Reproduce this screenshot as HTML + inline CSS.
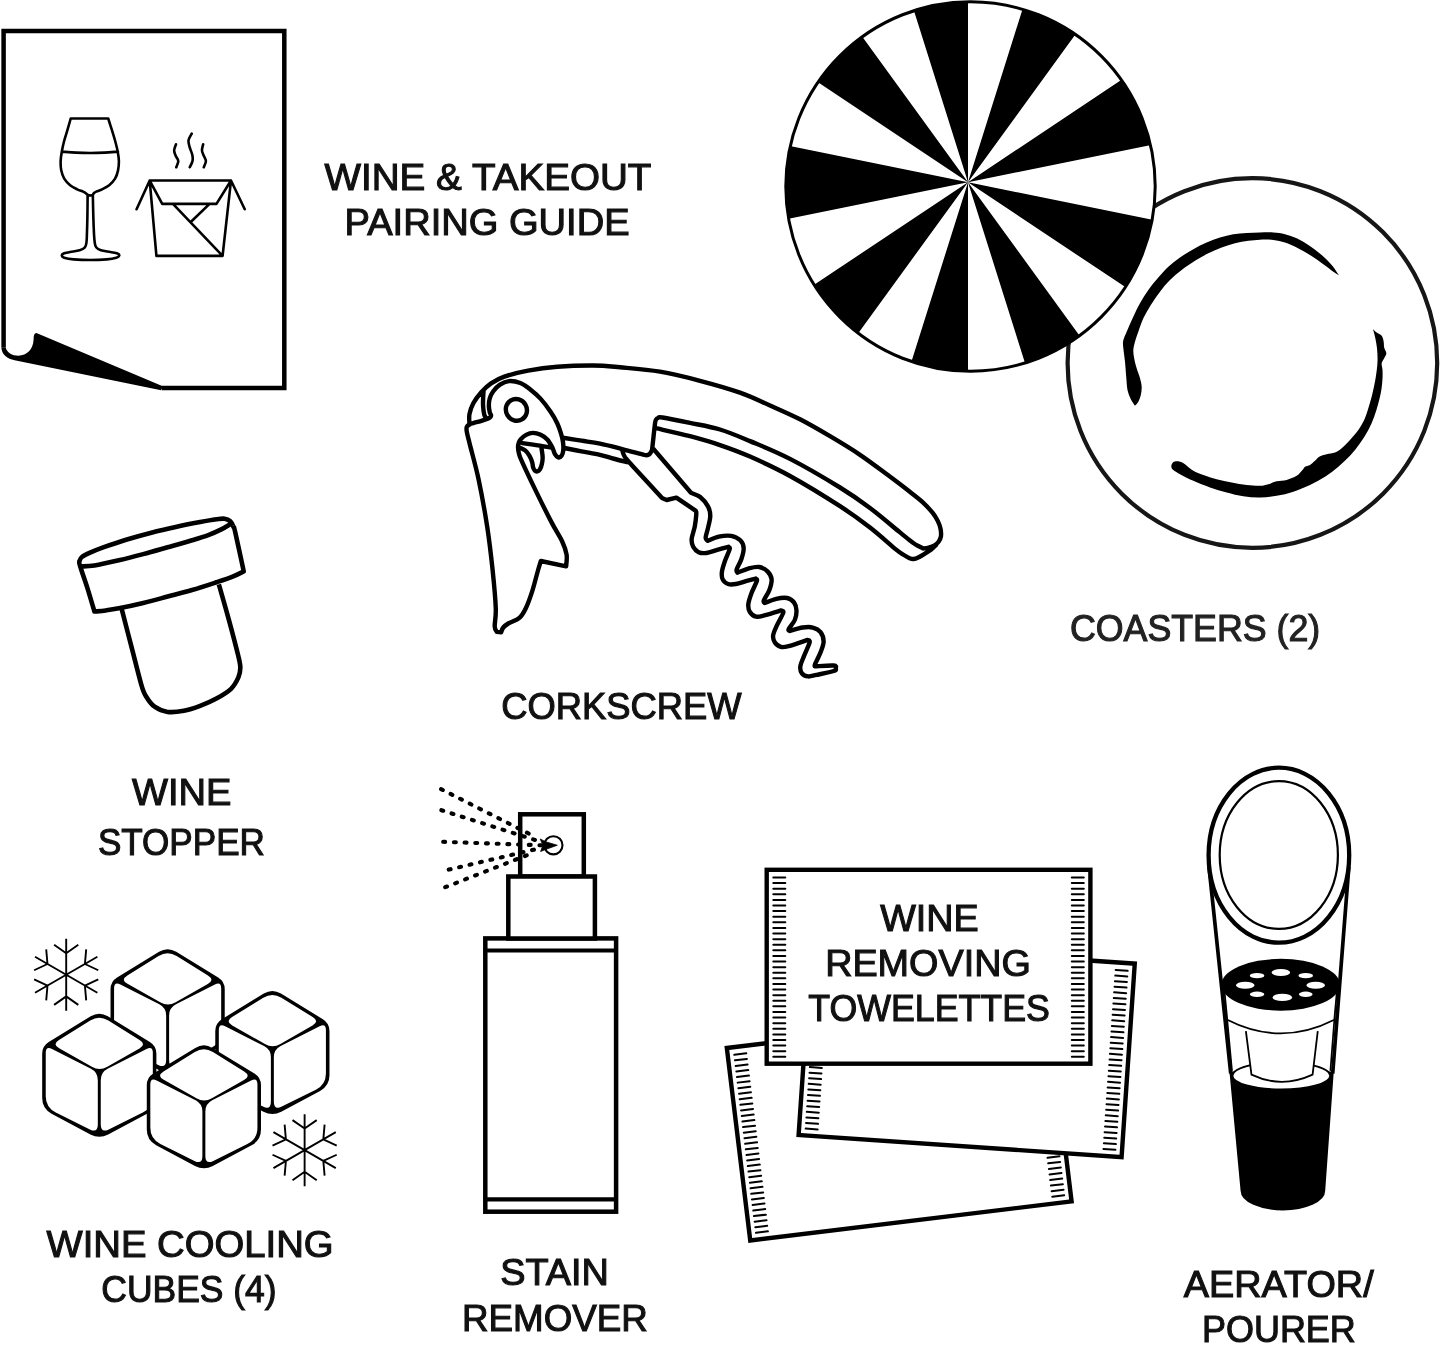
<!DOCTYPE html>
<html><head><meta charset="utf-8"><title>Wine kit</title>
<style>
html,body{margin:0;padding:0;background:#fff;}
body{width:1440px;height:1352px;overflow:hidden;}
svg{display:block;will-change:transform;}
text{font-family:"Liberation Sans",sans-serif;font-size:37.3px;}
</style></head><body>
<svg width="1440" height="1352" viewBox="0 0 1440 1352">
<rect width="1440" height="1352" fill="#fff"/>
<path d="M3.6 347.22 L3.6 31 L284.3 31 L284.3 388 L161.81 388" fill="none" stroke="#000" stroke-width="4.5" stroke-linejoin="miter"/>
<path d="M36.39 333.06 L162.78 386.25 L161.11 390.14 L14.58 360.14C7.64 359.03 1.39 354.44 1.39 347.22L5.69 347.22C6.67 352.5 12.22 355.69 18.33 355.69C27.08 355.28 33.06 350 33.61 339.58C33.61 335.42 34.17 333.33 36.39 333.06Z" fill="#000"/>
<path d="M70.71 118.52C70.22 120.26 68.84 125.23 67.75 128.93C66.67 132.64 65.19 137.02 64.2 140.77C63.21 144.52 62.43 148.07 61.83 151.42C61.24 154.77 60.75 157.73 60.65 160.89C60.55 164.04 60.65 167.4 61.24 170.36C61.83 173.31 62.72 176.17 64.2 178.64C65.68 181.1 67.95 183.37 70.12 185.15C72.29 186.92 75.05 188.21 77.22 189.29C79.39 190.37 81.66 190.97 83.14 191.66C84.62 192.35 85.35 192.88 86.09 193.43C86.84 193.98 87.38 194.71 87.63 194.97C88.07 195.07 89.37 195.56 90.24 195.56C91.1 195.56 92.41 195.07 92.84 194.97C93.04 194.65 93.37 193.67 94.02 193.08C94.67 192.49 95.4 192.05 96.75 191.42C98.09 190.79 100 190.34 102.07 189.29C104.14 188.24 107 186.92 109.17 185.15C111.34 183.37 113.61 181.1 115.09 178.64C116.57 176.17 117.42 173.31 118.05 170.36C118.68 167.4 118.93 164.04 118.88 160.89C118.82 157.73 118.32 154.77 117.69 151.42C117.06 148.07 116.11 144.52 115.09 140.77C114.06 137.02 112.68 132.64 111.54 128.93C110.39 125.23 108.78 120.26 108.22 118.52L70.71 118.52Z M61.83 151.66C64.2 151.81 71.3 152.39 76.04 152.6C80.77 152.82 85.5 152.96 90.24 152.96C94.97 152.96 99.82 152.82 104.44 152.6C109.05 152.39 115.68 151.81 117.93 151.66 M87.63 194.97C87.59 198.56 87.51 209.96 87.4 216.51C87.28 223.06 87.08 229.92 86.92 234.26C86.77 238.6 86.79 240.37 86.45 242.54C86.11 244.71 86.06 246 84.91 247.28C83.77 248.56 82.05 249.45 79.59 250.24C77.12 251.03 72.78 251.48 70.12 252.01C67.46 252.54 64.99 252.84 63.61 253.43C62.23 254.02 61.74 254.85 61.83 255.56C61.93 256.27 62.23 257.06 64.2 257.69C66.17 258.32 69.33 258.95 73.67 259.35C78.01 259.74 84.71 260.06 90.24 260.06C95.76 260.06 102.47 259.74 106.8 259.35C111.14 258.95 114.2 258.32 116.27 257.69C118.34 257.06 119.03 256.27 119.23 255.56C119.43 254.85 118.93 254.02 117.46 253.43C115.98 252.84 113.12 252.54 110.36 252.01C107.59 251.48 103.25 251.03 100.89 250.24C98.52 249.45 97.18 248.56 96.15 247.28C95.13 246 95.09 244.71 94.73 242.54C94.38 240.37 94.26 238.6 94.02 234.26C93.79 229.92 93.51 223.06 93.31 216.51C93.12 209.96 92.92 198.56 92.84 194.97 M136.56 209.24 L149.7 180.52 L230.99 180.52 L244.74 209.24 M149.7 180.52 L156.42 255.84 L222.58 255.84 L230.99 180.52 M149.7 180.52 L162.23 203.9 L216.47 203.9 L230.99 180.52 M172.93 203.9 L222.58 255.84 M209.6 203.9 L191.26 221.47 M175.98 144.31C175.68 145.33 174.2 148.51 174.15 150.42C174.1 152.33 174.99 153.99 175.68 155.77C176.36 157.55 178.17 159.21 178.27 161.12C178.38 163.03 176.62 166.21 176.29 167.23 M191.72 133.61C191.18 134.76 188.84 138.2 188.51 140.49C188.18 142.78 189.1 144.95 189.73 147.36C190.37 149.78 191.87 152.71 192.33 155C192.79 157.3 192.92 159.08 192.48 161.12C192.05 163.15 190.19 166.21 189.73 167.23 M203.18 144.31C202.97 145.33 201.85 148.51 201.96 150.42C202.06 152.33 203.13 153.99 203.79 155.77C204.45 157.55 205.93 159.21 205.93 161.12C205.93 163.03 204.15 166.21 203.79 167.23" fill="none" stroke="#000" stroke-width="2.6" stroke-linecap="round" stroke-linejoin="round"/>
<circle cx="1252.4" cy="363" r="184.8" fill="#fff" stroke="#161616" stroke-width="4.2"/>
<path d="M1339 275.33C1337.78 273.61 1334.56 268.39 1331.67 265C1328.78 261.61 1325.56 258.33 1321.67 255C1317.78 251.67 1312.5 247.78 1308.33 245C1304.17 242.22 1300.56 240.14 1296.67 238.33C1292.78 236.53 1288.89 235.14 1285 234.17C1281.11 233.19 1277.5 232.78 1273.33 232.5C1269.17 232.22 1264.44 232.42 1260 232.5C1255.56 232.58 1251.11 232.72 1246.67 233C1242.22 233.28 1237.78 233.42 1233.33 234.17C1228.89 234.92 1224.44 236.11 1220 237.5C1215.56 238.89 1211.11 240.56 1206.67 242.5C1202.22 244.44 1197.78 246.67 1193.33 249.17C1188.89 251.67 1184.17 254.58 1180 257.5C1175.83 260.42 1171.94 263.33 1168.33 266.67C1164.72 270 1161.67 273.61 1158.33 277.5C1155 281.39 1151.39 285.69 1148.33 290C1145.28 294.31 1142.5 298.89 1140 303.33C1137.5 307.78 1135.56 311.94 1133.33 316.67C1131.11 321.39 1128.33 327.72 1126.67 331.67C1125 335.61 1123.92 337.83 1123.33 340.33C1122.75 342.83 1122.89 343.11 1123.17 346.67C1123.44 350.22 1124.47 356.39 1125 361.67C1125.53 366.94 1125.92 373.61 1126.33 378.33C1126.75 383.06 1126.75 386.53 1127.5 390C1128.25 393.47 1129.58 396.56 1130.83 399.17C1132.08 401.78 1134.31 404.58 1135 405.67C1135.56 405 1137.36 403.44 1138.33 401.67C1139.31 399.89 1140.28 397.5 1140.83 395C1141.39 392.5 1141.81 389.44 1141.67 386.67C1141.53 383.89 1140.83 381.39 1140 378.33C1139.17 375.28 1137.64 371.67 1136.67 368.33C1135.69 365 1134.72 361.39 1134.17 358.33C1133.61 355.28 1133.19 352.78 1133.33 350C1133.47 347.22 1134.17 344.72 1135 341.67C1135.83 338.61 1136.94 335.56 1138.33 331.67C1139.72 327.78 1141.25 322.78 1143.33 318.33C1145.42 313.89 1148.06 309.44 1150.83 305C1153.61 300.56 1156.81 295.83 1160 291.67C1163.19 287.5 1166.39 283.61 1170 280C1173.61 276.39 1177.5 273.19 1181.67 270C1185.83 266.81 1190.56 263.61 1195 260.83C1199.44 258.06 1203.89 255.56 1208.33 253.33C1212.78 251.11 1217.22 249.17 1221.67 247.5C1226.11 245.83 1230.56 244.44 1235 243.33C1239.44 242.22 1244.17 241.44 1248.33 240.83C1252.5 240.22 1255.83 239.81 1260 239.67C1264.17 239.53 1269.17 239.53 1273.33 240C1277.5 240.47 1281.11 241.25 1285 242.5C1288.89 243.75 1292.5 245.42 1296.67 247.5C1300.83 249.58 1305.56 252.22 1310 255C1314.44 257.78 1319.44 261.39 1323.33 264.17C1327.22 266.94 1330.72 269.81 1333.33 271.67C1335.94 273.53 1338.06 274.72 1339 275.33Z" fill="#000"/>
<path d="M1373 329.17C1373.61 329.72 1375.22 331.39 1376.67 332.5C1378.11 333.61 1380.5 334.31 1381.67 335.83C1382.83 337.36 1383.25 339.72 1383.67 341.67C1384.08 343.61 1383.72 345.56 1384.17 347.5C1384.61 349.44 1386.33 351.53 1386.33 353.33C1386.33 355.14 1384.94 356.67 1384.17 358.33C1383.39 360 1381.94 361.39 1381.67 363.33C1381.39 365.28 1382.36 367.5 1382.5 370C1382.64 372.5 1382.69 375 1382.5 378.33C1382.31 381.67 1382.03 385.83 1381.33 390C1380.64 394.17 1379.53 398.89 1378.33 403.33C1377.14 407.78 1375.83 412.22 1374.17 416.67C1372.5 421.11 1370.69 425.56 1368.33 430C1365.97 434.44 1363.06 439.03 1360 443.33C1356.94 447.64 1353.61 451.94 1350 455.83C1346.39 459.72 1342.5 463.19 1338.33 466.67C1334.17 470.14 1329.72 473.61 1325 476.67C1320.28 479.72 1315.28 482.5 1310 485C1304.72 487.5 1298.89 489.86 1293.33 491.67C1287.78 493.47 1282.22 494.86 1276.67 495.83C1271.11 496.81 1265.56 497.42 1260 497.5C1254.44 497.58 1248.89 497.17 1243.33 496.33C1237.78 495.5 1232.22 493.97 1226.67 492.5C1221.11 491.03 1215.56 489.44 1210 487.5C1204.44 485.56 1198.33 483.06 1193.33 480.83C1188.33 478.61 1183.33 475.97 1180 474.17C1176.67 472.36 1174.78 471.25 1173.33 470C1171.89 468.75 1171.47 467.83 1171.33 466.67C1171.19 465.5 1171.75 463.89 1172.5 463C1173.25 462.11 1174.58 461.56 1175.83 461.33C1177.08 461.11 1178.47 461.19 1180 461.67C1181.53 462.14 1182.78 462.64 1185 464.17C1187.22 465.69 1190.28 469.03 1193.33 470.83C1196.39 472.64 1199.44 473.61 1203.33 475C1207.22 476.39 1211.94 477.92 1216.67 479.17C1221.39 480.42 1226.67 481.53 1231.67 482.5C1236.67 483.47 1241.94 484.44 1246.67 485C1251.39 485.56 1256.39 485.97 1260 485.83C1263.61 485.69 1265.56 484.92 1268.33 484.17C1271.11 483.42 1273.61 482.03 1276.67 481.33C1279.72 480.64 1283.33 480.92 1286.67 480C1290 479.08 1294.03 477.5 1296.67 475.83C1299.31 474.17 1301.11 471.53 1302.5 470C1303.89 468.47 1303.75 467.5 1305 466.67C1306.25 465.83 1308.33 465.97 1310 465C1311.67 464.03 1313.47 462.22 1315 460.83C1316.53 459.44 1317.22 457.78 1319.17 456.67C1321.11 455.56 1324.03 454.86 1326.67 454.17C1329.31 453.47 1332.5 453.47 1335 452.5C1337.5 451.53 1339.17 450.42 1341.67 448.33C1344.17 446.25 1347.22 443.06 1350 440C1352.78 436.94 1355.97 433.33 1358.33 430C1360.69 426.67 1362.5 423.61 1364.17 420C1365.83 416.39 1366.94 412.78 1368.33 408.33C1369.72 403.89 1371.25 398.61 1372.5 393.33C1373.75 388.06 1375 381.94 1375.83 376.67C1376.67 371.39 1377.31 366.39 1377.5 361.67C1377.69 356.94 1377.42 352.5 1377 348.33C1376.58 344.17 1375.67 339.86 1375 336.67C1374.33 333.47 1373.33 330.42 1373 329.17Z" fill="#000"/>
<clipPath id="cc"><circle cx="970.5" cy="186.5" r="185"/></clipPath>
<circle cx="970.5" cy="186.5" r="185" fill="#fff"/>
<path d="M968 182.2 L1145.71 -381.62 L1301.99 -277.43Z M968 182.2 L1417.99 -117.8 L1479.71 78.01Z M968 182.2 L1479.71 286.39 L1417.99 482.2Z M968 182.2 L1301.99 641.83 L1145.71 746.02Z M968 182.2 L968 782.2 L790.29 746.02Z M968 182.2 L634.01 641.83 L518.01 482.2Z M968 182.2 L456.29 286.39 L456.29 78.01Z M968 182.2 L518.01 -117.8 L634.01 -277.43Z M968 182.2 L790.29 -381.62 L968 -417.8Z" fill="#000" clip-path="url(#cc)"/>
<circle cx="970.5" cy="186.5" r="184.7" fill="none" stroke="#000" stroke-width="3"/>
<path d="M121.73 609.12C123.41 615.62 128.51 635.42 131.82 648.16C135.13 660.9 139.14 677.44 141.58 685.58C144.02 693.71 144.29 693.44 146.46 696.96C148.63 700.49 151.07 704.23 154.59 706.72C158.12 709.22 162.73 711.25 167.61 711.93C172.49 712.61 178.45 711.79 183.88 710.79C189.3 709.79 194.72 707.94 200.14 705.91C205.57 703.88 211.26 701.44 216.41 698.59C221.56 695.74 227.39 692.35 231.05 688.83C234.71 685.3 236.83 680.97 238.37 677.44C239.92 673.92 240.33 671.21 240.33 667.68C240.33 664.16 240.33 664.43 238.37 656.29C236.42 648.16 231.87 630.86 228.61 618.88C225.36 606.89 220.48 590.14 218.85 584.39" fill="#fff" stroke="#000" stroke-width="4.6" stroke-linejoin="round"/>
<path d="M243.74 571.37C241.9 572.24 237.24 574.76 232.68 576.58C228.13 578.4 223.19 580.02 216.41 582.27C209.63 584.52 200.14 587.7 192.01 590.08C183.88 592.47 175.74 594.45 167.61 596.59C159.47 598.73 151.34 600.98 143.21 602.93C135.07 604.89 125.04 607.06 118.8 608.3C112.57 609.55 109.86 609.88 105.79 610.42C101.72 610.96 96.3 611.37 94.4 611.56C93.32 607.9 90.28 597.19 87.89 589.59C85.51 582 81.5 570.75 80.09 566.01C78.68 561.26 79.08 562.67 79.44 561.12C79.79 559.58 80.25 558.22 82.2 556.73C84.15 555.24 87.76 553.7 91.15 552.18C94.54 550.66 96.57 549.74 102.54 547.62C108.5 545.51 118.8 541.98 126.94 539.49C135.07 536.99 143.21 534.74 151.34 532.66C159.47 530.57 167.61 528.72 175.74 526.96C183.88 525.2 193.37 523.36 200.14 522.08C206.92 520.81 212.35 519.89 216.41 519.32C220.48 518.75 222.24 518.34 224.55 518.67C226.85 518.99 228.75 519.89 230.24 521.27C231.73 522.65 232.68 525.2 233.49 526.96C234.31 528.72 233.41 524.44 235.12 531.84C236.83 539.24 242.31 564.79 243.74 571.37Z" fill="#fff" stroke="#000" stroke-width="4.6" stroke-linejoin="round"/>
<path d="M81.06 566.49C83.29 566.33 88.11 566.55 94.4 565.52C100.69 564.49 110.67 562.21 118.8 560.31C126.94 558.41 135.07 556.3 143.21 554.13C151.34 551.96 159.47 549.6 167.61 547.3C175.74 544.99 185.23 542.34 192.01 540.3C198.79 538.27 203.4 536.91 208.28 535.1C213.16 533.28 217.63 531.22 221.29 529.4C224.95 527.59 228.75 525.06 230.24 524.2" fill="none" stroke="#000" stroke-width="4.6" stroke-linecap="round"/>
<path d="M159.05 951.87Q167.63 946.63 176.22 951.87L218.17 977.53Q224.73 981.54 224.73 989.23L224.73 1033.61Q224.73 1044.26 215.34 1049.28L176.51 1070Q167.63 1074.73 158.76 1070L119.93 1049.28Q110.53 1044.26 110.53 1033.61L110.53 989.23Q110.53 981.54 117.1 977.53Z" fill="#000"/><path d="M158.58 956.08Q167.63 950.47 176.69 956.08L207.93 975.4Q214.97 979.76 207.78 983.88L175.63 1002.28Q167.93 1006.69 160.2 1002.32L127.51 983.84Q120.3 979.76 127.34 975.4Z" fill="#fff"/><path d="M114.08 988.34Q114.08 981.24 120.4 984.48L159.31 1004.37Q166.15 1007.87 166.15 1015.56L166.15 1059.94Q166.15 1068.82 158.2 1064.88L124.16 1048.06Q114.08 1043.08 114.08 1031.83Z" fill="#fff"/><path d="M214.86 984.48Q221.18 981.24 221.18 988.34L221.18 1031.83Q221.18 1043.08 211.1 1048.06L177.07 1064.88Q169.11 1068.82 169.11 1059.94L169.11 1015.56Q169.11 1007.87 175.96 1004.37Z" fill="#fff"/>
<path d="M90.71 1016.37Q99.29 1011.12 107.87 1016.37L149.83 1042.02Q156.39 1046.04 156.39 1053.73L156.39 1098.11Q156.39 1108.76 146.99 1113.77L108.16 1134.49Q99.29 1139.23 90.42 1134.49L51.59 1113.77Q42.19 1108.76 42.19 1098.11L42.19 1053.73Q42.19 1046.04 48.75 1042.02Z" fill="#000"/><path d="M90.23 1020.57Q99.29 1014.97 108.35 1020.57L139.58 1039.9Q146.63 1044.26 139.44 1048.38L107.29 1066.77Q99.59 1071.18 91.86 1066.82L59.16 1048.34Q51.95 1044.26 59 1039.9Z" fill="#fff"/><path d="M45.74 1052.84Q45.74 1045.74 52.06 1048.97L90.96 1068.86Q97.81 1072.37 97.81 1080.06L97.81 1124.44Q97.81 1133.31 89.85 1129.38L55.82 1112.56Q45.74 1107.57 45.74 1096.33Z" fill="#fff"/><path d="M146.52 1048.97Q152.84 1045.74 152.84 1052.84L152.84 1096.33Q152.84 1107.57 142.76 1112.56L108.73 1129.38Q100.77 1133.31 100.77 1124.44L100.77 1080.06Q100.77 1072.37 107.62 1068.86Z" fill="#fff"/>
<path d="M263.78 993.59Q272.37 988.34 280.95 993.59L322.9 1019.24Q329.47 1023.25 329.47 1030.95L329.47 1075.33Q329.47 1085.98 320.07 1090.99L281.24 1111.71Q272.37 1116.45 263.49 1111.71L224.66 1090.99Q215.27 1085.98 215.27 1075.33L215.27 1030.95Q215.27 1023.25 221.83 1019.24Z" fill="#000"/><path d="M263.31 997.79Q272.37 992.19 281.42 997.79L312.66 1017.12Q319.7 1021.48 312.51 1025.59L280.37 1043.99Q272.66 1048.4 264.94 1044.03L232.24 1025.56Q225.03 1021.48 232.07 1017.12Z" fill="#fff"/><path d="M218.82 1030.06Q218.82 1022.96 225.14 1026.19L264.04 1046.08Q270.89 1049.59 270.89 1057.28L270.89 1101.66Q270.89 1110.53 262.93 1106.6L228.9 1089.77Q218.82 1084.79 218.82 1073.55Z" fill="#fff"/><path d="M319.6 1026.19Q325.92 1022.96 325.92 1030.06L325.92 1073.55Q325.92 1084.79 315.84 1089.77L281.8 1106.6Q273.85 1110.53 273.85 1101.66L273.85 1057.28Q273.85 1049.59 280.69 1046.08Z" fill="#fff"/>
<path d="M195.29 1047.88Q203.88 1042.63 212.46 1047.88L254.41 1073.53Q260.98 1077.54 260.98 1085.24L260.98 1129.62Q260.98 1140.27 251.58 1145.28L212.75 1166Q203.88 1170.74 195 1166L156.17 1145.28Q146.78 1140.27 146.78 1129.62L146.78 1085.24Q146.78 1077.54 153.34 1073.53Z" fill="#000"/><path d="M194.82 1052.08Q203.88 1046.48 212.93 1052.08L244.17 1071.41Q251.21 1075.77 244.02 1079.88L211.87 1098.28Q204.17 1102.69 196.44 1098.32L163.75 1079.85Q156.54 1075.77 163.58 1071.41Z" fill="#fff"/><path d="M150.33 1084.35Q150.33 1077.25 156.65 1080.48L195.55 1100.37Q202.4 1103.88 202.4 1111.57L202.4 1155.95Q202.4 1164.82 194.44 1160.89L160.4 1144.06Q150.33 1139.08 150.33 1127.84Z" fill="#fff"/><path d="M251.1 1080.48Q257.43 1077.25 257.43 1084.35L257.43 1127.84Q257.43 1139.08 247.35 1144.06L213.31 1160.89Q205.36 1164.82 205.36 1155.95L205.36 1111.57Q205.36 1103.88 212.2 1100.37Z" fill="#fff"/>
<path d="M66.2 974.8 L66.2 938.8 M66.2 953.2 L78.29 944.73 M66.2 953.2 L54.11 944.73 M66.2 974.8 L35.02 956.8 M47.49 964 L46.21 949.3 M47.49 964 L34.12 970.24 M66.2 974.8 L35.02 992.8 M47.49 985.6 L34.12 979.36 M47.49 985.6 L46.21 1000.3 M66.2 974.8 L66.2 1010.8 M66.2 996.4 L54.11 1004.87 M66.2 996.4 L78.29 1004.87 M66.2 974.8 L97.38 992.8 M84.91 985.6 L86.19 1000.3 M84.91 985.6 L98.28 979.36 M66.2 974.8 L97.38 956.8 M84.91 964 L98.28 970.24 M84.91 964 L86.19 949.3" fill="none" stroke="#000" stroke-width="1.9"/>
<path d="M304.62 1150.18 L304.62 1114.18 M304.62 1128.58 L316.71 1120.11 M304.62 1128.58 L292.52 1120.11 M304.62 1150.18 L273.44 1132.18 M285.91 1139.38 L284.62 1124.67 M285.91 1139.38 L272.53 1145.62 M304.62 1150.18 L273.44 1168.18 M285.91 1160.98 L272.53 1154.74 M285.91 1160.98 L284.62 1175.68 M304.62 1150.18 L304.62 1186.18 M304.62 1171.78 L292.52 1180.24 M304.62 1171.78 L316.71 1180.24 M304.62 1150.18 L335.79 1168.18 M323.32 1160.98 L324.61 1175.68 M323.32 1160.98 L336.7 1154.74 M304.62 1150.18 L335.79 1132.18 M323.32 1139.38 L336.7 1145.62 M323.32 1139.38 L324.61 1124.67" fill="none" stroke="#000" stroke-width="1.9"/>
<rect x="485.3" y="938.4" width="130.8" height="273.3" fill="#fff" stroke="#000" stroke-width="4.5"/>
<path d="M485.3 950.5H616.1M485.3 1199.3H616.1" stroke="#000" stroke-width="4.2"/>
<rect x="520.2" y="814.3" width="63.6" height="62.2" fill="#fff" stroke="#000" stroke-width="4.5"/>
<rect x="508.3" y="876.5" width="86.6" height="62" fill="#fff" stroke="#000" stroke-width="4.5"/>
<path d="M441.08 789.1 L531.99 835.24M441.39 810.18 L536.88 840.59M443.22 841.81 L542.23 845.32M448.72 869.62 L536.12 849.14M445.21 887.19 L530.77 853.73" fill="none" stroke="#000" stroke-width="4.1" stroke-linecap="round" stroke-dasharray="1.9 8.8"/>
<circle cx="553.4" cy="845.3" r="9.1" fill="none" stroke="#000" stroke-width="2.1"/>
<path d="M540.21 838.96 L545.42 841.67 L557.29 845.25 L547.5 848.75 L540.62 851.46 L542.92 845.21Z" fill="#000" stroke="#000" stroke-width="0.8" stroke-linejoin="round"/>
<g transform="translate(726.83 1047.96) rotate(-6.94)"><rect x="0" y="0" width="323.7" height="193.9" fill="#fff" stroke="#000" stroke-width="4.4"/><path d="M6.6 7.7h12M305.1 7.7h12M6.6 13.3h12M305.1 13.3h12M6.6 18.91h12M305.1 18.91h12M6.6 24.51h12M305.1 24.51h12M6.6 30.11h12M305.1 30.11h12M6.6 35.72h12M305.1 35.72h12M6.6 41.32h12M305.1 41.32h12M6.6 46.92h12M305.1 46.92h12M6.6 52.52h12M305.1 52.52h12M6.6 58.13h12M305.1 58.13h12M6.6 63.73h12M305.1 63.73h12M6.6 69.33h12M305.1 69.33h12M6.6 74.94h12M305.1 74.94h12M6.6 80.54h12M305.1 80.54h12M6.6 86.14h12M305.1 86.14h12M6.6 91.75h12M305.1 91.75h12M6.6 97.35h12M305.1 97.35h12M6.6 102.95h12M305.1 102.95h12M6.6 108.55h12M305.1 108.55h12M6.6 114.16h12M305.1 114.16h12M6.6 119.76h12M305.1 119.76h12M6.6 125.36h12M305.1 125.36h12M6.6 130.97h12M305.1 130.97h12M6.6 136.57h12M305.1 136.57h12M6.6 142.17h12M305.1 142.17h12M6.6 147.77h12M305.1 147.77h12M6.6 153.38h12M305.1 153.38h12M6.6 158.98h12M305.1 158.98h12M6.6 164.58h12M305.1 164.58h12M6.6 170.19h12M305.1 170.19h12M6.6 175.79h12M305.1 175.79h12M6.6 181.39h12M305.1 181.39h12M6.6 187h12M305.1 187h12" stroke="#000" stroke-width="2" stroke-linecap="round" fill="none"/></g>
<g transform="translate(811.81 941.58) rotate(3.9)"><rect x="0" y="0" width="323.7" height="193.9" fill="#fff" stroke="#000" stroke-width="4.4"/><path d="M6.6 7.7h12M305.1 7.7h12M6.6 13.3h12M305.1 13.3h12M6.6 18.91h12M305.1 18.91h12M6.6 24.51h12M305.1 24.51h12M6.6 30.11h12M305.1 30.11h12M6.6 35.72h12M305.1 35.72h12M6.6 41.32h12M305.1 41.32h12M6.6 46.92h12M305.1 46.92h12M6.6 52.52h12M305.1 52.52h12M6.6 58.13h12M305.1 58.13h12M6.6 63.73h12M305.1 63.73h12M6.6 69.33h12M305.1 69.33h12M6.6 74.94h12M305.1 74.94h12M6.6 80.54h12M305.1 80.54h12M6.6 86.14h12M305.1 86.14h12M6.6 91.75h12M305.1 91.75h12M6.6 97.35h12M305.1 97.35h12M6.6 102.95h12M305.1 102.95h12M6.6 108.55h12M305.1 108.55h12M6.6 114.16h12M305.1 114.16h12M6.6 119.76h12M305.1 119.76h12M6.6 125.36h12M305.1 125.36h12M6.6 130.97h12M305.1 130.97h12M6.6 136.57h12M305.1 136.57h12M6.6 142.17h12M305.1 142.17h12M6.6 147.77h12M305.1 147.77h12M6.6 153.38h12M305.1 153.38h12M6.6 158.98h12M305.1 158.98h12M6.6 164.58h12M305.1 164.58h12M6.6 170.19h12M305.1 170.19h12M6.6 175.79h12M305.1 175.79h12M6.6 181.39h12M305.1 181.39h12M6.6 187h12M305.1 187h12" stroke="#000" stroke-width="2" stroke-linecap="round" fill="none"/></g>
<g transform="translate(766.7 869.8) rotate(0)"><rect x="0" y="0" width="323.7" height="193.9" fill="#fff" stroke="#000" stroke-width="4.4"/><path d="M6.6 7.7h12M305.1 7.7h12M6.6 13.3h12M305.1 13.3h12M6.6 18.91h12M305.1 18.91h12M6.6 24.51h12M305.1 24.51h12M6.6 30.11h12M305.1 30.11h12M6.6 35.72h12M305.1 35.72h12M6.6 41.32h12M305.1 41.32h12M6.6 46.92h12M305.1 46.92h12M6.6 52.52h12M305.1 52.52h12M6.6 58.13h12M305.1 58.13h12M6.6 63.73h12M305.1 63.73h12M6.6 69.33h12M305.1 69.33h12M6.6 74.94h12M305.1 74.94h12M6.6 80.54h12M305.1 80.54h12M6.6 86.14h12M305.1 86.14h12M6.6 91.75h12M305.1 91.75h12M6.6 97.35h12M305.1 97.35h12M6.6 102.95h12M305.1 102.95h12M6.6 108.55h12M305.1 108.55h12M6.6 114.16h12M305.1 114.16h12M6.6 119.76h12M305.1 119.76h12M6.6 125.36h12M305.1 125.36h12M6.6 130.97h12M305.1 130.97h12M6.6 136.57h12M305.1 136.57h12M6.6 142.17h12M305.1 142.17h12M6.6 147.77h12M305.1 147.77h12M6.6 153.38h12M305.1 153.38h12M6.6 158.98h12M305.1 158.98h12M6.6 164.58h12M305.1 164.58h12M6.6 170.19h12M305.1 170.19h12M6.6 175.79h12M305.1 175.79h12M6.6 181.39h12M305.1 181.39h12M6.6 187h12M305.1 187h12" stroke="#000" stroke-width="2" stroke-linecap="round" fill="none"/></g>
<text x="880.15" y="931.2" textLength="98.5" lengthAdjust="spacingAndGlyphs" fill="#111" stroke="#111" stroke-width="1.1">WINE</text>
<text x="825.15" y="975.6" textLength="205.7" lengthAdjust="spacingAndGlyphs" fill="#111" stroke="#111" stroke-width="1.1">REMOVING</text>
<text x="808.35" y="1020.9" textLength="241.5" lengthAdjust="spacingAndGlyphs" fill="#111" stroke="#111" stroke-width="1.1">TOWELETTES</text>
<path d="M1230.55 1072.59 L1241.6 1190.8 A41.3 18.6 0 0 0 1324.2 1190.8 L1332.68 1072.59Z" fill="#000" stroke="#000" stroke-width="2" stroke-linejoin="round"/>
<ellipse cx="1281.31" cy="1075.7" rx="48.89" ry="13.67" fill="#fff" stroke="#000" stroke-width="1.8"/>
<path d="M1208.94 866.53 L1230.76 1073.62 M1348.86 866.53 L1332.68 1073.62" stroke="#000" stroke-width="3.7" fill="none"/>
<path d="M1227.23 1019.76 L1232 1070.93 M1334.34 1019.76 L1330.4 1070.93" stroke="#000" stroke-width="1.7" fill="none"/>
<path d="M1245.88 1031.15 L1251.47 1074.66 Q1281.51 1089.02 1312.59 1074.66 L1317.77 1031.15" fill="#fff" stroke="#000" stroke-width="1.8" stroke-linejoin="round"/>
<path d="M1224.33 989.72 L1227.23 1019.76 Q1280.89 1047.03 1334.34 1019.76 L1337.03 989.72Z" fill="#fff" stroke="#000" stroke-width="1.8" stroke-linejoin="round"/>
<ellipse cx="1280.68" cy="984.75" rx="59.25" ry="25.9" fill="#000"/>
<ellipse cx="1280.89" cy="972.53" rx="9.32" ry="3.52" fill="#fff"/>
<ellipse cx="1257.07" cy="975.63" rx="7.25" ry="2.69" fill="#fff"/>
<ellipse cx="1305.75" cy="975.63" rx="7.25" ry="2.69" fill="#fff"/>
<ellipse cx="1245.26" cy="985.16" rx="9.32" ry="3.52" fill="#fff"/>
<ellipse cx="1315.7" cy="985.16" rx="9.32" ry="3.52" fill="#fff"/>
<ellipse cx="1257.07" cy="994.28" rx="7.25" ry="2.69" fill="#fff"/>
<ellipse cx="1305.75" cy="994.28" rx="6.84" ry="2.69" fill="#fff"/>
<ellipse cx="1282.34" cy="997.39" rx="9.74" ry="3.73" fill="#fff"/>
<ellipse cx="1278.9" cy="855.2" rx="70.3" ry="87.5" fill="#fff" stroke="#000" stroke-width="4.3"/>
<ellipse cx="1278.8" cy="855" rx="59.1" ry="73.9" fill="#fff" stroke="#000" stroke-width="2.2"/>
<path d="M469.54 424.82C469.52 423.08 468.78 417.97 469.41 414.39C470.04 410.8 471.33 406.99 473.32 403.29C475.3 399.59 478.35 395.52 481.3 392.19C484.26 388.86 487.22 385.9 491.07 383.32C494.92 380.73 498.22 378.76 504.39 376.66C510.55 374.55 519.25 372.34 528.05 370.69C536.86 369.05 546.35 367.67 557.22 366.81C568.09 365.94 582.84 365.42 593.3 365.5C603.76 365.58 608.88 366.27 620 367.3C631.12 368.33 646.67 369.45 660 371.7C673.33 373.95 686.67 377.31 700 380.8C713.33 384.29 728.33 388.53 740 392.65C751.67 396.77 760 401.06 770 405.5C780 409.94 790 414.18 800 419.3C810 424.42 820 430.28 830 436.2C840 442.12 850.3 448.29 860 454.8C869.7 461.31 880.31 469.45 888.2 475.28C896.08 481.11 901.57 485.34 907.3 489.79C913.03 494.25 918.37 498.2 922.57 502.02C926.78 505.84 929.96 509.53 932.51 512.71C935.05 515.9 936.52 518.44 937.85 521.12C939.19 523.79 940.02 526.21 940.53 528.75C941.04 531.3 941.23 534.23 940.91 536.39C940.59 538.56 939.76 540.21 938.62 541.74C937.47 543.27 935.82 544.54 934.03 545.56C932.25 546.58 929.77 547.38 927.92 547.85C926.08 548.32 923.78 548.3 922.96 548.39 M652.08 450C652.31 447.87 653.01 441.44 653.47 437.22C653.94 433.01 654.47 427.62 654.86 424.72C655.25 421.83 655.25 421.02 655.83 419.86C656.41 418.7 657.22 418.17 658.33 417.78C659.44 417.38 657.22 416.65 662.5 417.5C667.78 418.35 680.42 420.9 690 422.9C699.58 424.9 710 426.47 720 429.5C730 432.53 738.33 436.2 750 441.1C761.67 446 775 451.17 790 458.9C805 466.63 826.67 479.32 840 487.5C853.33 495.68 860 500.52 870 508C880 515.48 892.9 526.65 900 532.4C907.1 538.15 909.47 540.18 912.6 542.5C915.73 544.82 917.02 545.32 918.8 546.3C920.58 547.28 922.55 548.05 923.3 548.4 M655.97 428.19C661.64 429.53 679.33 433.38 690 436.2C700.67 439.02 710 441.7 720 445.1C730 448.5 738.33 451.45 750 456.6C761.67 461.75 775 467.73 790 476C805 484.27 826.67 497.62 840 506.2C853.33 514.78 860.69 520.3 870 527.5C879.31 534.7 890.26 544.84 895.84 549.38C901.42 553.92 901.18 553.26 903.48 554.73C905.77 556.19 907.93 557.45 909.59 558.17C911.24 558.88 911.88 559.17 913.41 559.01C914.94 558.84 916.84 558.08 918.75 557.17C920.66 556.27 922.83 554.82 924.87 553.58C926.9 552.35 929.13 551.16 930.98 549.76C932.82 548.36 935.12 545.94 935.94 545.18 M563.05 437.78C566.13 438.26 575.37 439.72 581.52 440.69C587.68 441.66 593.21 442.22 600 443.61C606.78 445 615.28 447.27 622.22 449.03C629.17 450.79 637.62 453.12 641.67 454.17C645.72 455.21 645.19 455.32 646.53 455.28C647.87 455.23 648.8 454.77 649.72 453.89C650.65 453.01 651.69 450.65 652.08 450 M564.51 447.98C567.35 448.55 575.61 450.25 581.52 451.39C587.44 452.52 594.6 453.56 600 454.79C605.39 456.02 609.26 457.51 613.89 458.75C618.52 459.99 625.46 461.64 627.78 462.22 M522.22 443.12C524.81 443.5 533 444.63 537.78 445.36C542.56 446.09 548.71 447.14 550.9 447.5 M519.5 447.5C520.44 447.98 523.47 449.04 525.14 450.41C526.81 451.79 528.35 453.82 529.51 455.76C530.68 457.71 531.54 460.14 532.14 462.08C532.74 464.02 532.66 466 533.11 467.43C533.56 468.85 534.16 469.97 534.86 470.64C535.56 471.3 536.45 471.62 537.29 471.41C538.13 471.2 539.15 470.6 539.91 469.37C540.68 468.14 541.41 466.05 541.86 464.02C542.31 462 542.7 459.89 542.64 457.22C542.57 454.55 541.66 449.52 541.47 447.98 M483.52 391.3C483.47 392.34 483.24 395.15 483.17 397.52C483.1 399.89 482.91 402.7 483.08 405.51C483.25 408.32 483.67 412.28 484.19 414.39C484.71 416.49 485.85 417.53 486.19 418.16 M496.85 631.82L501.14 632.25C501.49 631.47 502.03 629.03 503.28 627.53C504.54 626.03 505.97 624.85 508.65 623.24C511.33 621.63 516.52 620.38 519.38 617.88C522.24 615.37 523.67 612.69 525.82 608.22C527.96 603.75 530.29 597.13 532.25 591.05C534.22 584.97 536.19 576.75 537.62 571.74C539.05 566.73 540.3 562.8 540.84 561.01L566.16 566.37C566.23 564.41 567.23 558.68 566.59 554.57C565.94 550.46 564.8 547.06 562.3 541.7C559.79 536.33 555.86 530.61 551.57 522.38C547.27 514.16 541.44 502.39 536.55 492.34C531.65 482.29 525.16 468.58 522.22 462.08C519.28 455.58 519.61 455.76 518.92 453.33C518.22 450.9 518.09 449.2 518.04 447.5C517.99 445.8 518.17 444.5 518.62 443.12C519.08 441.75 519.51 440.61 520.76 439.23C522.01 437.86 524.08 435.91 526.11 434.86C528.13 433.81 530.48 432.91 532.91 432.91C535.35 432.91 538.26 433.72 540.69 434.86C543.12 435.99 545.55 437.61 547.5 439.72C549.44 441.83 551.14 445.15 552.36 447.5C553.57 449.85 553.82 452.16 554.79 453.82C555.76 455.47 557.06 457.09 558.19 457.41C559.33 457.74 560.75 456.93 561.59 455.76C562.44 454.59 563 452.6 563.25 450.41C563.49 448.23 563.41 445.39 563.05 442.64C562.7 439.88 562.08 437.13 561.11 433.89C560.14 430.65 559 426.92 557.22 423.19C555.44 419.47 553.17 415.58 550.41 411.53C547.66 407.48 544.09 402.61 540.69 398.89C537.29 395.16 533.4 391.82 530 389.17C526.6 386.51 523.81 384.29 520.28 382.94C516.75 381.6 512.21 380.81 508.82 381.1C505.44 381.38 502.54 382.95 499.95 384.65C497.36 386.35 494.99 389.01 493.29 391.3C491.59 393.6 490.48 396.04 489.74 398.41C489 400.77 488.85 403.21 488.85 405.51C488.85 407.8 489.37 410.54 489.74 412.17C490.11 413.79 490.96 414.46 491.07 415.27C491.18 416.09 490.85 416.53 490.4 417.05C489.96 417.57 489.78 417.79 488.41 418.38C487.04 418.97 484.71 419.82 482.19 420.6C479.68 421.38 475.34 422.46 473.32 423.04C471.29 423.62 471.11 423.46 470.02 424.1C468.94 424.74 467.34 425.6 466.8 426.89C466.27 428.18 466.27 428.78 466.8 431.82C467.34 434.86 468.05 437.19 470.02 445.13C471.99 453.07 475.74 465.87 478.61 479.46C481.47 493.05 484.86 511.65 487.19 526.67C489.51 541.7 491.12 556 492.55 569.59C493.98 583.18 495.41 598.74 495.77 608.22C496.13 617.7 494.52 622.53 494.7 626.46C494.88 630.39 496.49 630.93 496.85 631.82Z M653.47 449.03L690.97 492.78C692.51 493.49 697.36 494.81 700.19 497.08C703.02 499.35 706.27 503.29 707.95 506.4C709.63 509.5 710.28 512.09 710.28 515.71C710.28 519.34 708.73 524.46 707.95 528.14C707.17 531.81 705.67 535.64 705.62 537.76C705.57 539.89 707.3 540.35 707.64 540.87C709.5 540.17 714.89 537.51 718.82 536.68C722.75 535.85 727.62 535.25 731.24 535.9C734.87 536.55 738.49 538.49 740.56 540.56C742.63 542.63 743.54 545.22 743.66 548.32C743.79 551.43 742.5 555.7 741.34 559.19C740.17 562.69 737.32 567.03 736.68 569.29C736.03 571.54 737.32 572.13 737.45 572.7C739.27 572 744.7 569.47 748.32 568.51C751.95 567.55 755.96 566.44 759.19 566.96C762.43 567.47 765.66 569.54 767.73 571.61C769.8 573.69 771.36 576.27 771.61 579.38C771.87 582.48 770.58 586.75 769.29 590.25C767.99 593.74 764.63 598.22 763.85 600.34C763.07 602.46 764.5 602.54 764.63 602.98C766.57 602.28 772.52 599.62 776.27 598.79C780.03 597.96 784.17 597.37 787.14 598.01C790.12 598.66 792.58 600.6 794.13 602.67C795.68 604.74 796.33 607.59 796.46 610.43C796.59 613.28 796.2 616.65 794.91 619.75C793.61 622.86 789.52 627.2 788.7 629.07C787.87 630.93 789.73 630.62 789.94 630.93C792.06 630.36 798.87 628.08 802.67 627.52C806.48 626.95 809.79 626.74 812.76 627.52C815.74 628.29 818.72 629.84 820.53 632.17C822.34 634.5 823.63 638.13 823.63 641.49C823.63 644.86 821.95 648.61 820.53 652.36C819.1 656.11 816.05 661.68 815.09 664.01C814.14 666.34 814.83 665.95 814.78 666.34C817.94 666.21 830.23 665.22 833.73 665.56C837.22 665.9 835.75 667.45 835.75 668.35C835.75 669.26 836.91 669.91 833.73 670.99C830.54 672.08 820.92 673.97 816.65 674.88C812.38 675.78 810.56 676.69 808.11 676.43C805.65 676.17 803.19 675.01 801.89 673.32C800.6 671.64 799.95 669.31 800.34 666.34C800.73 663.36 802.67 659.48 804.22 655.47C805.78 651.45 809.09 644.86 809.66 642.27C810.23 639.68 807.98 640.33 807.64 639.94C804.48 640.97 793.15 644.98 788.7 646.15C784.24 647.31 783.26 647.57 780.93 646.93C778.6 646.28 776.01 644.21 774.72 642.27C773.43 640.33 772.78 638.13 773.17 635.28C773.56 632.43 775.37 628.94 777.05 625.19C778.73 621.43 782.56 615.22 783.26 612.76C783.96 610.31 781.58 610.82 781.24 610.43C778.6 611.21 769.6 614.06 765.4 615.09C761.21 616.13 758.67 617.16 756.09 616.65C753.5 616.13 751.17 614.06 749.88 611.99C748.58 609.92 748.06 607.33 748.32 604.22C748.58 601.12 750.01 597.24 751.43 593.35C752.85 589.47 756.16 583.39 756.86 580.93C757.56 578.47 755.83 578.99 755.62 578.6C754.15 578.99 750.06 580.03 746.77 580.93C743.48 581.84 739.01 583.52 735.9 584.04C732.8 584.55 730.34 584.81 728.14 584.04C725.94 583.26 723.74 581.45 722.7 579.38C721.67 577.31 721.54 574.72 721.93 571.61C722.31 568.51 723.74 564.5 725.03 560.75C726.33 556.99 729.12 551.43 729.69 549.1C730.26 546.77 728.65 547.16 728.45 546.77C726.58 547.29 720.94 548.84 717.27 549.88C713.59 550.91 709.5 552.59 706.4 552.98C703.29 553.37 700.83 553.24 698.63 552.2C696.43 551.17 694.36 548.97 693.2 546.77C692.03 544.57 691.39 542.37 691.65 539.01C691.9 535.64 693.98 530.72 694.75 526.58C695.53 522.44 696.12 516.79 696.3 514.16C696.48 511.54 695.91 511.39 695.83 510.83L676.39 497.64L666.67 500L662.5 498.33C656.94 492.31 635.53 469.28 629.17 462.22C622.8 455.16 625.42 457.82 624.31 455.97C623.19 454.12 622.8 451.92 622.5 451.11" fill="none" stroke="#000" stroke-width="4.4" stroke-linecap="round" stroke-linejoin="round"/>
<ellipse cx="516.39" cy="409.87" rx="10.4" ry="11" fill="none" stroke="#000" stroke-width="4.4" transform="rotate(-30 516.39 409.87)"/>
<text x="324.55" y="190" textLength="326.9" lengthAdjust="spacingAndGlyphs" fill="#111" stroke="#111" stroke-width="1.1">WINE &amp; TAKEOUT</text>
<text x="344.55" y="235.4" textLength="285.1" lengthAdjust="spacingAndGlyphs" fill="#111" stroke="#111" stroke-width="1.1">PAIRING GUIDE</text>
<text x="501.35" y="718.5" textLength="240.3" lengthAdjust="spacingAndGlyphs" fill="#111" stroke="#111" stroke-width="1.1">CORKSCREW</text>
<text x="1069.95" y="640.6" textLength="250.3" lengthAdjust="spacingAndGlyphs" fill="#222" stroke="#222" stroke-width="1.1">COASTERS (2)</text>
<text x="131.95" y="804.6" textLength="99.5" lengthAdjust="spacingAndGlyphs" fill="#111" stroke="#111" stroke-width="1.1">WINE</text>
<text x="97.95" y="854.6" textLength="166.9" lengthAdjust="spacingAndGlyphs" fill="#111" stroke="#111" stroke-width="1.1">STOPPER</text>
<text x="46.55" y="1257.2" textLength="287.1" lengthAdjust="spacingAndGlyphs" fill="#111" stroke="#111" stroke-width="1.1">WINE COOLING</text>
<text x="101.35" y="1301.5" textLength="175.3" lengthAdjust="spacingAndGlyphs" fill="#111" stroke="#111" stroke-width="1.1">CUBES (4)</text>
<text x="500.15" y="1284.9" textLength="108.7" lengthAdjust="spacingAndGlyphs" fill="#111" stroke="#111" stroke-width="1.1">STAIN</text>
<text x="461.95" y="1330.6" textLength="185.9" lengthAdjust="spacingAndGlyphs" fill="#111" stroke="#111" stroke-width="1.1">REMOVER</text>
<text x="1183.85" y="1296.6" textLength="189.8" lengthAdjust="spacingAndGlyphs" fill="#111" stroke="#111" stroke-width="1.1">AERATOR/</text>
<text x="1201.95" y="1341.9" textLength="153.9" lengthAdjust="spacingAndGlyphs" fill="#111" stroke="#111" stroke-width="1.1">POURER</text>
</svg>
</body></html>
